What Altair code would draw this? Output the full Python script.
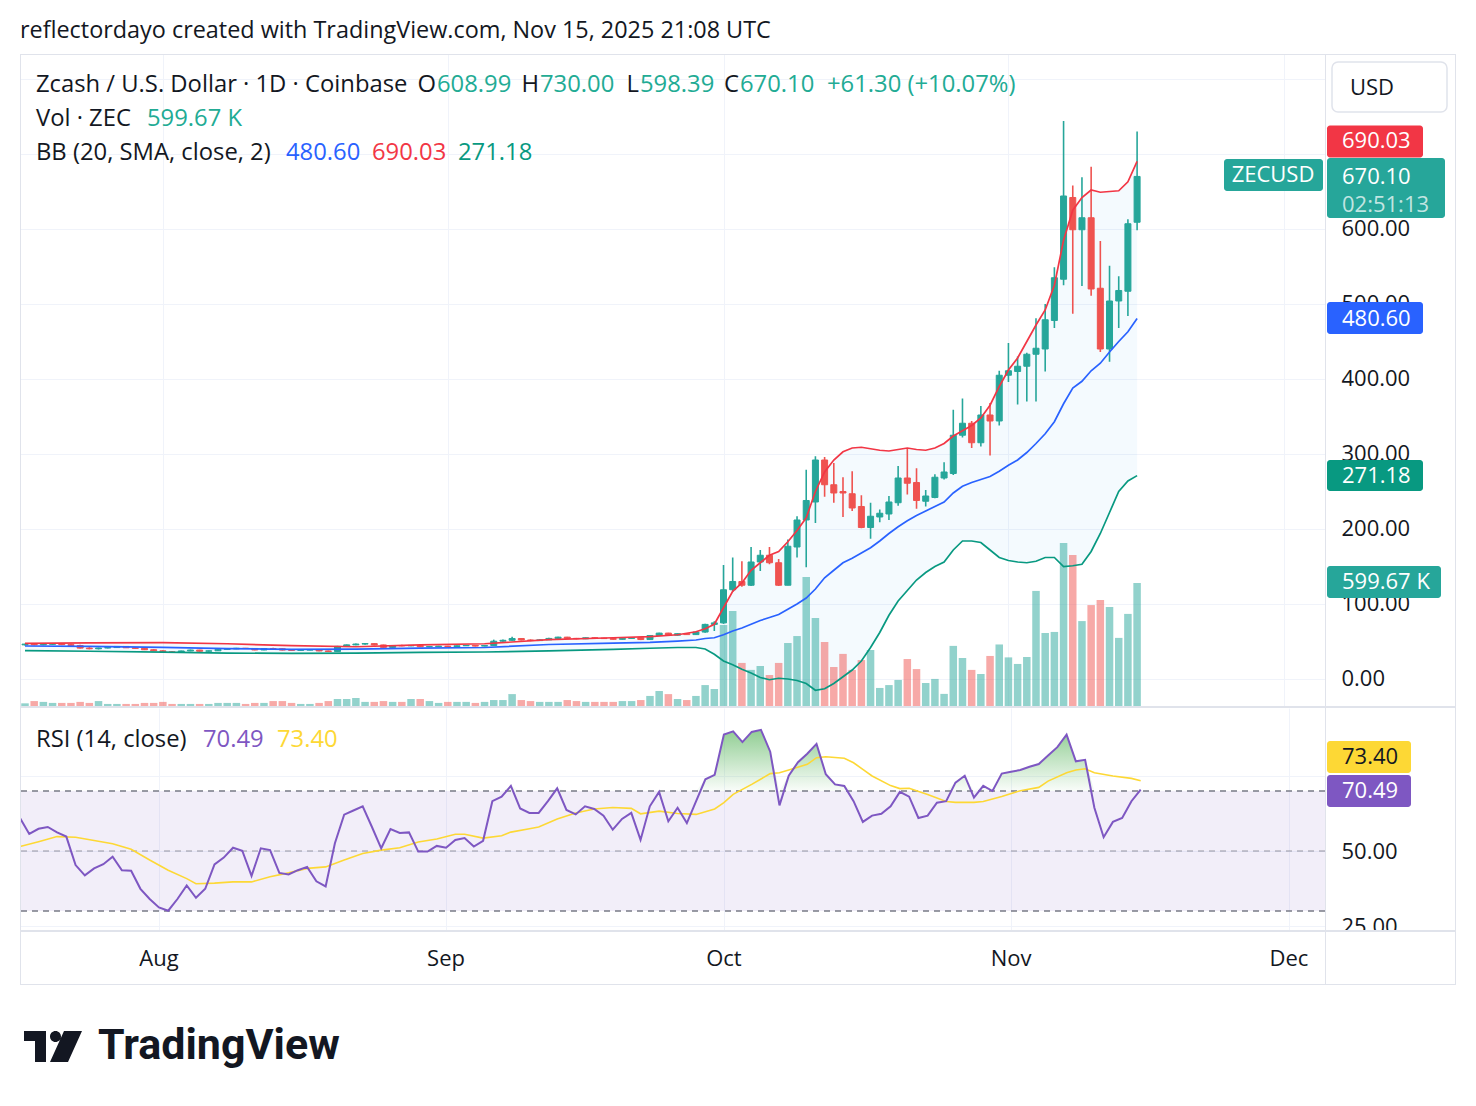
import altair as alt
import numpy as np
import pandas as pd

# ---------------- ZEC/USD daily candles, Jul 17 - Nov 15 2025 ----------------
FIRST_DAY = "2025-07-17"

opens = [
    45.5, 46.5, 45.6, 46.3, 46.8, 45.8, 44.6, 41.2, 40.3, 41.3, 41.9, 43.4, 41.6, 40.8, 39.0,
    37.6, 36.2, 35.6, 37.4, 38.6, 37.0, 37.6, 39.5, 40.1, 41.0, 40.7, 38.7, 40.6, 40.3, 38.6,
    38.2, 38.6, 38.9, 37.4, 36.6, 43.5, 45.5, 46.6, 47.2, 45.4, 42.2, 44.6, 44.2, 44.8, 43.0, 43.2,
    43.8, 43.3, 44.3, 44.8, 43.9, 44.6, 50.4, 51.6, 54.0, 52.0, 51.2, 52.2, 54.1, 55.8, 54.2,
    53.6, 55.0, 54.5, 53.9, 52.9, 54.1, 55.0, 52.6, 58.0, 61.2, 58.4, 60.4, 59.2, 62.6, 72.8,
    74.8, 119, 130, 125, 156, 165, 155, 125, 176, 212, 236, 292, 259, 250, 247,
    230, 202, 216, 220, 235, 268, 262, 237, 242, 268, 274, 325, 341, 315, 352, 344,
    405, 410, 417, 433, 440, 478, 533, 642, 599, 615, 521, 440, 504, 517, 608.99,
]
highs = [
    47.0, 47.5, 46.8, 47.2, 47.5, 46.9, 45.5, 42.4, 41.8, 42.4, 43.9, 44.1, 42.5, 41.4, 39.8,
    38.3, 36.9, 37.8, 39.2, 38.9, 37.9, 40.0, 40.6, 41.5, 41.4, 41.2, 41.1, 41.8, 40.8, 39.2,
    39.0, 39.4, 39.1, 37.9, 44.2, 46.0, 47.4, 48.0, 47.6, 45.8, 45.1, 45.6, 45.4, 45.2, 43.8, 44.2,
    44.2, 44.8, 45.3, 45.2, 45.0, 52.5, 52.8, 56.4, 54.6, 52.9, 53.0, 54.9, 56.3, 56.2, 54.8,
    55.4, 55.8, 55.0, 54.3, 54.6, 55.4, 55.3, 58.6, 61.8, 61.6, 60.9, 61.0, 63.4, 73.6, 77.0,
    152, 162, 157, 176, 172, 176, 160, 186, 217, 279, 297, 296, 288, 269, 277,
    245, 235, 226, 244, 284, 308, 281, 252, 273, 289, 359, 374, 344, 364, 368, 411,
    448, 430, 435, 481, 500, 549, 744, 658, 669, 683, 584, 551, 537, 613, 730.00,
]
lows = [
    44.5, 45.0, 45.0, 45.6, 45.2, 44.2, 40.6, 39.6, 39.4, 40.8, 41.5, 41.2, 40.4, 38.6, 37.2,
    35.6, 35.2, 35.3, 37.0, 36.5, 36.4, 37.3, 39.0, 39.8, 40.0, 38.3, 38.3, 39.7, 38.1, 37.8,
    37.9, 38.2, 37.0, 36.0, 36.3, 42.8, 44.9, 45.8, 44.9, 41.6, 41.8, 43.6, 43.7, 42.6, 42.5, 42.9,
    42.8, 43.0, 43.9, 43.4, 43.5, 44.2, 49.8, 51.0, 51.4, 50.4, 50.8, 51.9, 53.6, 53.5, 52.8,
    53.2, 53.9, 53.4, 52.5, 52.6, 53.8, 51.9, 52.3, 57.4, 57.9, 57.8, 58.7, 58.9, 61.8, 64.0,
    73.5, 116, 123, 124, 144, 153, 124, 125, 162, 149, 208, 243, 235, 216, 224,
    201, 187, 209, 212, 231, 246, 227, 230, 241, 266, 272, 322, 308, 310, 298, 338,
    396, 366, 370, 370, 410, 468, 525, 487, 524, 511, 436, 423, 468, 484, 598.39,
]
closes = [
    46.5, 45.6, 46.3, 46.8, 45.8, 44.6, 41.2, 40.3, 41.3, 41.9, 43.4, 41.6, 40.8, 39.0, 37.6,
    36.2, 35.6, 37.4, 38.6, 37.0, 37.6, 39.5, 40.1, 41.0, 40.7, 38.7, 40.6, 40.3, 38.6, 38.2,
    38.6, 38.9, 37.4, 36.6, 43.5, 45.5, 46.6, 47.2, 45.4, 42.2, 44.6, 44.2, 44.8, 43.0, 43.2, 43.8,
    43.3, 44.3, 44.8, 43.9, 44.6, 50.4, 51.6, 54.0, 52.0, 51.2, 52.2, 54.1, 55.8, 54.2, 53.6,
    55.0, 54.5, 53.9, 52.9, 54.1, 55.0, 52.6, 58.0, 61.2, 58.4, 60.4, 59.2, 62.6, 72.8, 74.8,
    119, 130, 125, 156, 165, 155, 125, 177, 212, 238, 292, 259, 248, 248, 228,
    202, 217, 221, 236, 268, 261, 238, 244, 269, 276, 325, 341, 315, 352, 344, 405,
    411, 417, 433, 441, 479, 535, 644, 599, 615, 520, 440, 504, 518, 607, 670.10,
]
volumes_k = [
    13, 24, 20, 15, 15, 15, 20, 15, 24, 10, 10, 10, 10, 15, 15,
    20, 10, 10, 10, 10, 10, 15, 15, 15, 10, 15, 15, 24, 24, 15,
    10, 10, 15, 24, 34, 34, 39, 20, 20, 24, 20, 20, 34, 34, 24, 15,
    20, 20, 20, 15, 20, 29, 29, 58, 29, 24, 20, 20, 20, 29, 24,
    20, 20, 20, 20, 24, 24, 29, 49, 73, 58, 34, 29, 49, 102, 83,
    395, 463, 210, 176, 195, 151, 210, 307, 341, 629, 429, 312, 190, 254, 176,
    224, 273, 88, 102, 127, 229, 180, 112, 132, 59, 293, 234, 176, 156, 244, 300,
    237, 205, 239, 561, 356, 361, 795, 736, 414, 492, 517, 483, 332, 449, 599.67,
]

# ---------------- Bollinger Bands (20, SMA, close, 2) ----------------
bb_dates = [
    "2025-07-17", "2025-07-24", "2025-08-01", "2025-08-08", "2025-08-15", "2025-08-22",
    "2025-08-29", "2025-09-05", "2025-09-12", "2025-09-19", "2025-09-23", "2025-09-26",
    "2025-09-28",
] + pd.date_range("2025-09-29", "2025-11-15", freq="D").strftime("%Y-%m-%d").tolist()
bb_upper = [
    47.6, 48.2, 48.4, 47.0, 44.5, 43.0, 45.5, 47.0, 52.5, 55.0, 56.5, 59.0, 63.0,
    67, 73,
    95, 117, 128, 145, 155, 165, 170, 183, 198, 215, 250, 276, 292, 303, 308,
    309, 307, 305, 304, 306, 308, 306, 305, 308, 314, 324, 331, 338, 348, 365, 390,
    412, 428, 450, 472, 492, 525, 585, 625, 642, 652, 649, 650, 651, 663, 690.03,
]
bb_basis = [
    44.0, 43.6, 42.2, 40.6, 39.6, 39.8, 41.2, 42.0, 46.0, 47.8, 48.8, 50.5, 52.0,
    54, 55,
    59, 64, 68, 73, 78, 82, 86, 93, 100, 108, 120, 135, 145, 155, 161,
    168, 175, 184, 194, 203, 211, 218, 224, 230, 236, 248, 257, 262, 266, 270, 277,
    285, 292, 302, 314, 327, 343, 367, 388, 397, 411, 421, 436, 450, 463, 480.60,
]
bb_lower = [
    37.8, 37.0, 35.8, 34.5, 34.2, 34.5, 35.5, 36.0, 37.5, 39.5, 41.0, 42.0, 42.0,
    40, 33,
    24, 19, 13, 8, 2, -1, 1, 0, -2, -6, -15, -13, -6, 3, 12,
    24, 42, 62, 85, 104, 118, 132, 142, 150, 156, 172, 184, 184, 182, 172, 162,
    158, 156, 155, 157, 162, 162, 150, 151, 153, 170, 194, 222, 250, 264, 271.18,
]

# ---------------- RSI (14, close) and its moving average ----------------
rsi_values = [
    61.0, 55.7, 57.4, 58.0, 56.2, 54.8, 45.3, 41.9, 44.2, 45.6, 48.1, 43.6, 43.4, 37.4, 34.0,
    31.2, 30.1, 34.0, 38.5, 34.4, 37.4, 45.5, 47.8, 51.1, 50.1, 41.7, 50.9, 50.3, 42.7, 42.2,
    43.6, 44.7, 39.9, 38.2, 52.6, 62.1, 63.5, 64.9, 58.0, 50.9, 57.3, 56.0, 56.2, 49.8, 49.8, 51.7,
    51.1, 53.7, 54.3, 51.5, 53.4, 66.6, 68.1, 71.7, 64.2, 62.7, 62.7, 66.6, 70.9, 63.7, 62.2,
    64.9, 64.0, 61.8, 57.1, 60.7, 62.7, 53.7, 64.9, 69.7, 59.9, 64.4, 59.3, 66.6, 73.9, 75.4,
    88.8, 89.9, 86.3, 89.7, 90.4, 83.1, 65.2, 75.1, 79.6, 82.4, 85.7, 75.6, 72.2, 71.7, 66.6,
    59.7, 61.8, 62.4, 64.9, 69.7, 68.1, 61.0, 61.8, 66.1, 66.6, 72.8, 75.1, 67.8, 71.7, 70.0, 75.8,
    76.4, 77.0, 78.1, 79.0, 81.8, 84.6, 88.8, 79.9, 80.4, 64.4, 54.6, 59.7, 61.0, 66.6, 70.49,
]
rsi_ma_dates = [
    "2025-07-17", "2025-07-19", "2025-07-21", "2025-07-23", "2025-07-25", "2025-07-27",
    "2025-07-29", "2025-07-31", "2025-08-02", "2025-08-04", "2025-08-05", "2025-08-07",
    "2025-08-09", "2025-08-11", "2025-08-13", "2025-08-15", "2025-08-17", "2025-08-19",
    "2025-08-21", "2025-08-23", "2025-08-25", "2025-08-27", "2025-08-29", "2025-08-31",
    "2025-09-02", "2025-09-03", "2025-09-05", "2025-09-07", "2025-09-08", "2025-09-10",
    "2025-09-11", "2025-09-13", "2025-09-15", "2025-09-17", "2025-09-19", "2025-09-21",
    "2025-09-22", "2025-09-24", "2025-09-26", "2025-09-28", "2025-09-30", "2025-10-01",
    "2025-10-02", "2025-10-04", "2025-10-06", "2025-10-07", "2025-10-08", "2025-10-10",
    "2025-10-11", "2025-10-12", "2025-10-14", "2025-10-15", "2025-10-16", "2025-10-17",
    "2025-10-19", "2025-10-20", "2025-10-21", "2025-10-23", "2025-10-25", "2025-10-26",
    "2025-10-28", "2025-10-29", "2025-10-31", "2025-11-02", "2025-11-04", "2025-11-05",
    "2025-11-07", "2025-11-08", "2025-11-09", "2025-11-10", "2025-11-12", "2025-11-14",
    "2025-11-15",
]
rsi_ma_values = [
    51.5, 53.1, 54.8, 54.6, 53.5, 52.4, 50.6, 47.0, 43.6, 40.8, 39.1, 39.3,
    39.7, 39.7, 41.4, 42.7, 44.2, 44.7, 47.0, 49.2, 50.3, 51.1, 53.0, 54.0,
    55.6, 55.6, 54.3, 55.1, 56.3, 57.4, 58.0, 60.7, 62.7, 64.0, 64.5, 64.2,
    62.4, 63.3, 62.5, 62.2, 64.0, 66.1, 68.9, 72.2, 75.8, 76.1, 77.0, 78.9,
    81.1, 81.4, 80.9, 79.4, 77.2, 75.0, 71.8, 70.8, 70.9, 68.8, 66.5, 66.2,
    66.2, 66.5, 68.2, 70.1, 71.2, 73.3, 76.1, 77.0, 77.4, 76.1, 75.0, 74.2,
    73.40,
]

month_starts = ["2025-08-01", "2025-09-01", "2025-10-01", "2025-11-01", "2025-12-01"]
month_labels = ["Aug", "Sep", "Oct", "Nov", "Dec"]
price_ticks = [0, 100, 200, 300, 400, 500, 600, 700, 800]
rsi_ticks = [25, 50, 75]

# ---------------- tables ----------------
days = pd.date_range(FIRST_DAY, periods=len(closes), freq="D").strftime("%Y-%m-%d").tolist()
candles = pd.DataFrame({"date": days, "open": opens, "high": highs, "low": lows,
                        "close": closes, "vol": volumes_k})
candles["dir"] = np.where(candles["close"] >= candles["open"], "up", "down")
bands = pd.DataFrame({"date": bb_dates, "upper": bb_upper, "basis": bb_basis, "lower": bb_lower})
rsi_df = pd.DataFrame({"date": days, "rsi": rsi_values})
rsi_df["hot"] = rsi_df["rsi"].clip(lower=70)
rsi_ma_df = pd.DataFrame({"date": rsi_ma_dates, "ma": rsi_ma_values})
months = pd.DataFrame({"date": month_starts, "label": month_labels})
ONE = pd.DataFrame({"k": [0]})

# ---------------- style ----------------
FONT = "Open Sans"
FS = 22           # price-scale and tag text
FS_LEG = 23.8     # pane legends
FS_HEAD = 23.4    # snapshot header
INK = "#131722"
GRID = "#f0f3fa"
FRAME = "#e0e3eb"
UP, DOWN = "#26a69a", "#ef5350"
TEAL_TXT = "#22ab94"
BLUE, RED, GREEN = "#2962ff", "#f23645", "#089981"
PURPLE, YELLOW = "#7e57c2", "#fdd835"

W = 1305          # plot width of each pane
FULL_W = 1436     # pane plus price scale
H_P, H_R, H_T = 652, 222, 53

PRICE_DOM = [-36.0, 833.33]
VOL_DOM = [0.0, 3178.7]
RSI_DOM = [23.667, 97.667]
UPP_P = (PRICE_DOM[1] - PRICE_DOM[0]) / H_P
UPP_V = (VOL_DOM[1] - VOL_DOM[0]) / H_P
UPP_R = (RSI_DOM[1] - RSI_DOM[0]) / H_R

xs = alt.Scale(type="utc", domain=[
    alt.DateTime(year=2025, month=7, date=17, utc=True),
    alt.DateTime(year=2025, month=12, date=4, hours=21, minutes=36, utc=True)])
ps = alt.Scale(domain=PRICE_DOM, nice=False, zero=False)
vs = alt.Scale(domain=VOL_DOM, nice=False, zero=False)
rs = alt.Scale(domain=RSI_DOM, nice=False, zero=False)
dir_scale = alt.Scale(domain=["up", "down"], range=[UP, DOWN])

month_ticks = [alt.DateTime(year=2025, month=m, date=1, utc=True) for m in (8, 9, 10, 11, 12)]
x_axis = alt.Axis(values=month_ticks, grid=True, gridColor=GRID, labels=False,
                  ticks=False, domain=False, title=None)


def X():
    return alt.X("date:T", scale=xs, axis=x_axis)


def scale_axis(values, expr):
    return alt.Axis(orient="right", values=values, grid=True, gridColor=GRID, ticks=False,
                    tickSize=0, domain=False, labelPadding=16, labelFont=FONT,
                    labelFontSize=FS, labelColor=INK, labelOverlap=False, labelFlush=False,
                    labelAlign="left", title=None, labelExpr=expr)


def label(text, x, y, color=INK, size=FS_LEG, weight="normal", align="left", font=FONT):
    return alt.Chart(ONE).mark_text(text=text, color=color, font=font, fontSize=size,
                                    fontWeight=weight, align=align, baseline="middle"
                                    ).encode(x=alt.value(x), y=alt.value(y))


def hline(x0, x1, y, color=FRAME, width=1.0):
    return alt.Chart(ONE).mark_rule(color=color, strokeWidth=width).encode(
        x=alt.value(x0), x2=alt.value(x1), y=alt.value(y))


def vline(x, y0, y1, color=FRAME, width=1.0):
    return alt.Chart(ONE).mark_rule(color=color, strokeWidth=width).encode(
        x=alt.value(x), y=alt.value(y0), y2=alt.value(y1))


def value_box(value, above_px, below_px, fill, x0, x1, scale, upp, radius=3):
    """Price-scale tag spanning above_px over and below_px under the value."""
    return alt.Chart(ONE).mark_rect(color=fill, cornerRadius=radius).encode(
        x=alt.value(x0), x2=alt.value(x1),
        y=alt.YDatum(value + above_px * upp, scale=scale, axis=None),
        y2=alt.Y2Datum(value - below_px * upp))


def value_text(value, text, color, x, scale, dy=0, align="left", size=FS):
    return alt.Chart(ONE).mark_text(text=text, color=color, font=FONT, fontSize=size,
                                    align=align, baseline="middle", dy=dy).encode(
        x=alt.value(x), y=alt.YDatum(value, scale=scale, axis=None))


# ---------------- price pane ----------------
band_fill = alt.Chart(bands).mark_area(color="#2196f3", opacity=0.05, clip=True).encode(
    x=X(), y=alt.Y("upper:Q", scale=ps,
                   axis=scale_axis(price_ticks, "datum.value <= 600 ? format(datum.value, '.2f') : ''")),
    y2="lower:Q")

volume = alt.Chart(candles).mark_bar(size=7.5, opacity=0.5, clip=True).encode(
    x=X(), y=alt.Y("vol:Q", scale=vs, axis=None, stack=None),
    color=alt.Color("dir:N", scale=dir_scale, legend=None))

wicks = alt.Chart(candles).mark_rule(strokeWidth=1.6, clip=True).encode(
    x=X(), y=alt.Y("low:Q", scale=ps, axis=None), y2="high:Q",
    color=alt.Color("dir:N", scale=dir_scale, legend=None))

bodies = alt.Chart(candles).mark_bar(size=6, strokeWidth=1, clip=True).encode(
    x=X(), y=alt.Y("open:Q", scale=ps, axis=None), y2="close:Q",
    color=alt.Color("dir:N", scale=dir_scale, legend=None),
    stroke=alt.Stroke("dir:N", scale=dir_scale, legend=None))

band_lines = [
    alt.Chart(bands).mark_line(color=col, strokeWidth=1.7, clip=True).encode(
        x=X(), y=alt.Y(f"{field}:Q", scale=ps, axis=None))
    for field, col in (("upper", RED), ("basis", BLUE), ("lower", GREEN))
]

price_legend = [
    label("Zcash / U.S. Dollar · 1D · Coinbase", 16, 31),
    label("O", 416, 31, align="right"), label("608.99", 417, 31, TEAL_TXT),
    label("H", 519, 31, align="right"), label("730.00", 520, 31, TEAL_TXT),
    label("L", 619, 31, align="right"), label("598.39", 620, 31, TEAL_TXT),
    label("C", 719, 31, align="right"), label("670.10", 720, 31, TEAL_TXT),
    label("+61.30 (+10.07%)", 807, 31, TEAL_TXT),
    label("Vol · ZEC", 16, 65), label("599.67 K", 127, 65, TEAL_TXT),
    label("BB (20, SMA, close, 2)", 16, 99),
    label("480.60", 266, 99, BLUE), label("690.03", 352, 99, RED),
    label("271.18", 438, 99, GREEN),
]

last_close = closes[-1]
price_tags = [
    value_box(bb_upper[-1], 36, -4, RED, 1307, 1403, ps, UPP_P),
    value_text(bb_upper[-1], "690.03", "white", 1322, ps, dy=-20),
    value_box(last_close, 17.4, 14.6, UP, 1204, 1303, ps, UPP_P),
    value_text(last_close, "ZECUSD", "white", 1253, ps, dy=-1, align="center"),
    value_box(last_close, 18.4, 41.6, UP, 1307, 1425, ps, UPP_P),
    value_text(last_close, "670.10", "white", 1322, ps, dy=1),
    value_text(last_close, "02:51:13", "rgba(255,255,255,0.72)", 1322, ps, dy=29),
    value_box(bb_basis[-1], 16.6, 15.4, BLUE, 1307, 1403, ps, UPP_P),
    value_text(bb_basis[-1], "480.60", "white", 1322, ps),
    value_box(bb_lower[-1], 15.6, 15.4, GREEN, 1307, 1403, ps, UPP_P),
    value_text(bb_lower[-1], "271.18", "white", 1322, ps),
    value_box(volumes_k[-1], 17, 15, UP, 1307, 1421, vs, UPP_V),
    value_text(volumes_k[-1], "599.67 K", "white", 1322, vs, dy=-1),
]

usd_box = [
    alt.Chart(ONE).mark_rect(fill="white", stroke=FRAME, strokeWidth=1.5, cornerRadius=6).encode(
        x=alt.value(1312), x2=alt.value(1427), y=alt.value(8), y2=alt.value(58)),
    label("USD", 1330, 34, size=FS),
]

price_frame = [
    hline(-19.5, 1455, -53.5, color="white"),  # anchors the canvas origin
    hline(0, FULL_W, 0.5),
    vline(0.5, 0, H_P), vline(FULL_W - 0.5, 0, H_P), vline(W + 0.5, 0, H_P),
    label("reflectordayo created with TradingView.com, Nov 15, 2025 21:08 UTC", 0, -23,
          size=FS_HEAD),
]

price_pane = alt.layer(
    band_fill, volume, wicks, bodies, *band_lines, *price_legend, *price_tags,
    *usd_box, *price_frame,
).resolve_scale(y="independent").properties(width=W, height=H_P)

# ---------------- RSI pane ----------------
rsi_zone = alt.Chart(ONE).mark_rect(color=PURPLE, opacity=0.1).encode(
    x=alt.value(0), x2=alt.value(W),
    y=alt.YDatum(70, scale=rs, axis=None), y2=alt.Y2Datum(30))

rsi_axis_layer = alt.Chart(rsi_df).mark_line(opacity=0).encode(
    x=X(), y=alt.Y("rsi:Q", scale=rs,
                   axis=scale_axis(rsi_ticks, "datum.value == 75 ? '' : format(datum.value, '.2f')")))

hot_fill = alt.Chart(rsi_df).mark_area(clip=True, color=alt.Gradient(
    gradient="linear", x1=1, x2=1, y1=0, y2=1,
    stops=[alt.GradientStop(color="rgba(76,175,80,0.62)", offset=0),
           alt.GradientStop(color="rgba(76,175,80,0.03)", offset=1)])).encode(
    x=X(), y=alt.Y("hot:Q", scale=rs, axis=None), y2=alt.Y2Datum(70))

levels = [
    alt.Chart(ONE).mark_rule(color="#787b86", strokeDash=[6, 5], strokeWidth=1.3,
                             opacity=op).encode(y=alt.YDatum(v, scale=rs, axis=None))
    for v, op in ((70, 1.0), (50, 0.5), (30, 1.0))
]

ma_line = alt.Chart(rsi_ma_df).mark_line(color=YELLOW, strokeWidth=1.6, clip=True).encode(
    x=X(), y=alt.Y("ma:Q", scale=rs, axis=None))
rsi_line = alt.Chart(rsi_df).mark_line(color=PURPLE, strokeWidth=2, clip=True).encode(
    x=X(), y=alt.Y("rsi:Q", scale=rs, axis=None))

rsi_legend = [
    label("RSI (14, close)", 16, 32),
    label("70.49", 183, 32, PURPLE),
    label("73.40", 257, 32, YELLOW),
]
rsi_tags = [
    value_box(rsi_ma_values[-1], 39.8, -7.8, YELLOW, 1307, 1391, rs, UPP_R),
    value_text(rsi_ma_values[-1], "73.40", INK, 1322, rs, dy=-23.8),
    value_box(rsi_values[-1], 14.5, 17.5, PURPLE, 1307, 1391, rs, UPP_R),
    value_text(rsi_values[-1], "70.49", "white", 1322, rs, dy=1.5),
]
rsi_frame = [
    hline(0, FULL_W, -1, width=2),
    vline(0.5, 0, H_R), vline(FULL_W - 0.5, 0, H_R), vline(W + 0.5, 0, H_R),
]

rsi_pane = alt.layer(
    rsi_zone, rsi_axis_layer, hot_fill, *levels, ma_line, rsi_line,
    *rsi_legend, *rsi_tags, *rsi_frame,
).resolve_scale(y="independent").properties(width=W, height=H_R)

# ---------------- time scale strip and footer ----------------
cover = alt.Chart(ONE).mark_rect(color="white").encode(
    x=alt.value(0), x2=alt.value(FULL_W), y=alt.value(0), y2=alt.value(H_T))
month_text = alt.Chart(months).mark_text(font=FONT, fontSize=FS, color=INK,
                                         baseline="middle").encode(
    x=alt.X("date:T", scale=xs, axis=None), y=alt.value(27), text="label:N")

LOGO = ("M0,0H22V31H11V10H0Z "
        "M26,5.5a5.5,5.5 0 1,0 11,0a5.5,5.5 0 1,0 -11,0Z "
        "M40,0H58L44,31H26Z")
logo_mark = alt.Chart(ONE).mark_point(shape=LOGO, size=4, filled=True, color=INK,
                                      opacity=1, strokeWidth=0).encode(
    x=alt.value(4), y=alt.value(99))

time_pane = alt.layer(
    cover,
    hline(0, FULL_W, -1, width=2),
    month_text,
    hline(0, FULL_W, H_T - 0.5),
    vline(0.5, -1, H_T), vline(FULL_W - 0.5, -1, H_T), vline(W + 0.5, -1, H_T),
    logo_mark,
    label("TradingView", 78, 114, size=43, weight="bold", font="Roboto"),
).properties(width=W, height=H_T + 100)

chart = alt.vconcat(price_pane, rsi_pane, time_pane, spacing=2, bounds="flush").properties(
    padding=0, background="white"
).configure_view(stroke=None)

chart.save("out.html", embed_options={"renderer": "svg", "actions": False})
